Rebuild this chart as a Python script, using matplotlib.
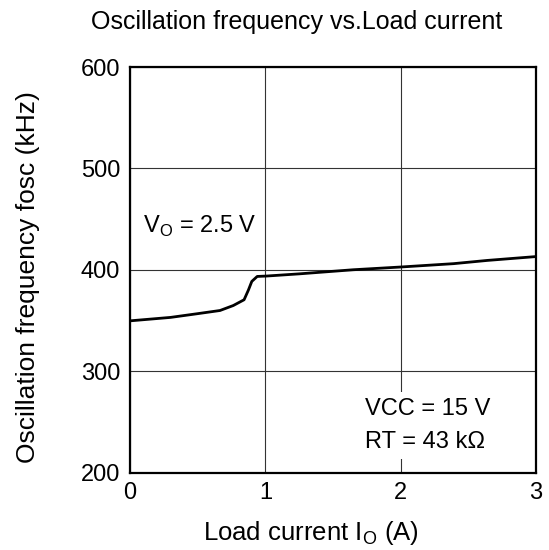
import matplotlib
matplotlib.use("Agg")
import matplotlib.pyplot as plt

plt.rcParams['font.family'] = ['Liberation Sans', 'DejaVu Sans']
plt.rcParams['mathtext.fontset'] = 'custom'
plt.rcParams['mathtext.rm'] = 'Liberation Sans'

load_current = [0.0, 0.15, 0.30, 0.49, 0.665, 0.763, 0.843, 0.875, 0.90, 0.94, 1.01, 1.256, 1.65, 2.0, 2.39, 2.64, 3.0]
frequency = [349.6, 351.3, 353.0, 356.5, 359.8, 364.7, 370.4, 380.0, 388.5, 393.4, 393.8, 396.0, 400.0, 402.7, 406.0, 409.2, 413.0]
x_ticks = [0, 1, 2, 3]
y_ticks = [200, 300, 400, 500, 600]

W, H = 549, 550
fig = plt.figure(figsize=(W/100, H/100), dpi=100)
ax = fig.add_axes([130/W, 1-472.5/H, 406/W, 405.5/H])
ax.plot(load_current, frequency, color='black', lw=2.0, zorder=3)
ax.set_xlim(0, 3)
ax.set_ylim(200, 600)
ax.set_xticks(x_ticks)
ax.set_yticks(y_ticks)
ax.grid(True, color='#333333', lw=0.8)
ax.tick_params(length=0, labelsize=17, pad=7)
for s in ax.spines.values():
    s.set_linewidth(1.6)

fig.text(297/W, 1-22/H, 'Oscillation frequency vs.Load current', fontsize=18, ha='center', va='center')
fig.text(311/W, 1-533/H, r'Load current I$_\mathrm{O}$ (A)', fontsize=18.5, ha='center', va='center')
fig.text(28/W, 1-277.5/H, 'Oscillation frequency fosc (kHz)', fontsize=19, ha='center', va='center', rotation=90)

bb = dict(facecolor='white', edgecolor='none', pad=4)
ax.text(0.094, 442.8, r'V$_\mathrm{O}$ = 2.5 V', fontsize=17, va='center', ha='left', bbox=bb, zorder=4)
ax.text(1.74, 262.7, 'VCC = 15 V', fontsize=17, va='center', ha='left', bbox=bb, zorder=4)
ax.text(1.74, 229.6, 'RT = 43 kΩ', fontsize=17, va='center', ha='left', bbox=bb, zorder=4)

fig.savefig('out.png', dpi=100)
